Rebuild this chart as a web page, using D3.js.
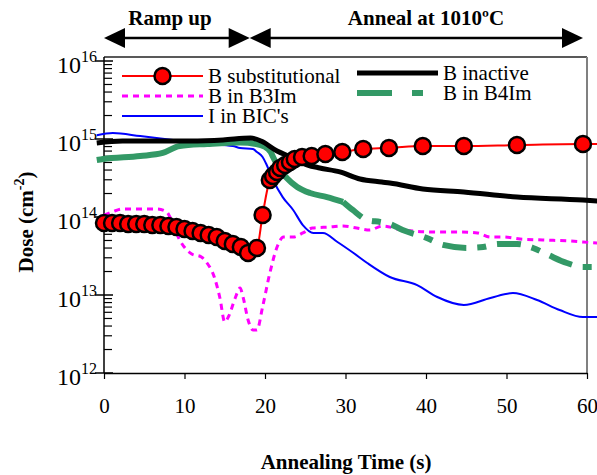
<!DOCTYPE html>
<html><head><meta charset="utf-8">
<script src="https://cdn.jsdelivr.net/npm/d3@7"></script>
<style>body{margin:0;background:#fff}svg{display:block}svg text{font-family:'Liberation Serif','Times New Roman',serif !important}</style>
</head><body><svg id="c" width="597" height="475"></svg>
<script>
// ---- data ----
const subT = [0,1,2,3,4,5,6,7,8,9,10,11,12,13,14,15,16,17,17.9,19.0,19.7,20.6,21.0,21.5,21.9,22.5,23.1,23.7,24.6,25.8,27.5,29.6,32.2,35.4,39.6,44.7,51.3,59.5,61.3];
const subV = [8.38e13,8.38e13,8.38e13,8.13e13,8.13e13,8.13e13,7.89e13,7.89e13,7.67e13,7.45e13,7.02e13,6.62e13,6.24e13,5.88e13,5.54e13,4.92e13,4.51e13,4.12e13,3.45e13,4.01e13,1.06e14,2.98e14,3.36e14,3.78e14,4.25e14,4.64e14,5.07e14,5.54e14,5.88e14,6.05e14,6.42e14,6.81e14,7.45e14,7.67e14,8.13e14,8.13e14,8.38e14,8.63e14,8.63e14];

const inactT = [-0.9,2.3,6.5,10.7,14.8,18.2,19.5,21.5,23.2,25.3,26.8,29.3,31.8,34.5,35.5,39.6,44.7,51.3,59.5,61.3];
const inactV = [8.9e14,9.42e14,9.42e14,9.42e14,9.7e14,1.03e15,9.42e14,7.02e14,5.88e14,4.64e14,4.25e14,3.78e14,3.07e14,2.81e14,2.73e14,2.29e14,2.09e14,1.80e14,1.65e14,1.60e14];

const b3T = [0,1,2.4,4.5,6.6,7.8,8.2,9.4,10.9,12.1,12.8,13.7,14.4,15.0,15.5,16.3,16.9,17.3,17.9,18.5,19.0,19.7,20.6,21.5,22.3,23.5,24.7,25.9,28.1,29.7,31.4,33.0,34.6,37.1,41.4,44.2,46.4,48.0,49.6,51.7,54.5,57.9,59.5,61.3];
const b3V = [1.06e14,1.16e14,1.27e14,1.27e14,1.27e14,1.16e14,1.00e14,5.07e13,3.36e13,3.07e13,2.57e13,1.70e13,9.16e12,4.51e12,5.38e12,9.16e12,1.23e13,9.16e12,4.78e12,3.56e12,3.56e12,7.02e12,1.91e13,4.12e13,5.54e13,5.54e13,6.24e13,7.23e13,7.45e13,7.67e13,7.23e13,6.81e13,7.67e13,6.81e13,6.42e13,6.42e13,6.24e13,5.54e13,5.54e13,5.22e13,5.07e13,4.92e13,4.78e13,4.64e13];

const b4T = [-0.9,-0.1,4.5,7.3,9.4,12.8,16.9,18.9,19.8,20.7,21.0,21.9,22.7,24.0,25.6,27.7,29.7,30.9,32.7,34.3,35.5,37.1,40.1,42.1,45.1,47.1,49.0,51.3,53.3,55.2,57.5,59.5,61.3];
const b4V = [5.38e14,5.54e14,6.05e14,6.62e14,8.13e14,8.63e14,9.02e14,8.63e14,8.13e14,6.81e14,5.88e14,4.01e14,3.16e14,2.43e14,2.03e14,1.80e14,1.56e14,1.23e14,9.16e13,8.63e13,8.13e13,6.81e13,5.38e13,4.38e13,4.01e13,4.12e13,4.51e13,4.51e13,4.01e13,3.26e13,2.57e13,2.29e13,2.29e13];
const b4SolidUntil = 29.7;

const bicT = [-0.9,1.1,4.5,8.6,12.8,16.0,16.9,18.5,19.0,19.7,20.1,21.0,22.2,23.5,24.7,26.0,27.2,29.0,31.0,32.7,35.5,38.9,41.4,44.7,48.0,50.8,53.8,56.6,59.5,61.3];
const bicV = [1.12e15,1.19e15,1.09e15,9.7e14,8.63e14,8.13e14,7.67e14,7.45e14,6.81e14,5.88e14,4.92e14,2.98e14,1.80e14,1.23e14,7.89e13,6.24e13,6.24e13,4.78e13,3.45e13,2.57e13,1.70e13,1.34e13,9.42e12,7.45e12,9.16e12,1.06e13,8.63e12,6.42e12,5.22e12,5.22e12];

const xTicks = [0,10,20,30,40,50,60];
const yMajor = [1e12,1e13,1e14,1e15,1e16];
const phases = [
  {label:"Ramp up", from:0, to:18.1, text:8.2},
  {label:"Anneal at 1010ºC", from:18.1, to:59.5, text:40}
];
const legendItems = [
  {name:"B substitutional", key:"sub", col:0, row:0},
  {name:"B in B3Im", key:"b3", col:0, row:1},
  {name:"I in BIC's", key:"bic", col:0, row:2},
  {name:"B inactive", key:"inact", col:1, row:0},
  {name:"B in B4Im", key:"b4", col:1, row:1}
];

// ---- drawing ----
const FONT = "'Liberation Serif','Times New Roman',serif";
const svg = d3.select("#c").style("font-family", FONT);
const x = d3.scaleLinear().domain([0,60]).range([104,587]);
const y = d3.scaleLog().domain([1e12,1e16]).range([373,61]);
const styles = {
  sub:{stroke:"#ff0000", w:2, dash:null},
  b3:{stroke:"#ff00ff", w:3, dash:"6,5"},
  bic:{stroke:"#0000ff", w:2, dash:null},
  inact:{stroke:"#000000", w:5, dash:null},
  b4:{stroke:"#339966", w:6, dash:null}
};
const zip = (T,V)=>T.map((t,i)=>[t,V[i]]);
const line = d3.line().x(d=>x(d[0])).y(d=>y(d[1])).curve(d3.curveMonotoneX);

// frame
svg.append("line").attr("x1",x(0)).attr("x2",x(60)).attr("y1",57).attr("y2",57).attr("stroke","#222").attr("stroke-width",1.5);
svg.append("line").attr("x1",x(60)).attr("x2",x(60)).attr("y1",57).attr("y2",y(1e12)).attr("stroke","#808080").attr("stroke-width",2);

// x axis
const gx = svg.append("g").attr("transform",`translate(0,${y(1e12)})`)
  .call(d3.axisBottom(x).tickValues(xTicks).tickSize(6).tickSizeOuter(0).tickPadding(19));
gx.attr("font-family",null).attr("font-size",null);
gx.select(".domain").attr("stroke-width",1.5);
gx.selectAll(".tick line").attr("stroke-width",1.2);
gx.selectAll("text").style("font-size","21px").attr("fill","#000");

// y axis
svg.append("line").attr("x1",x(0)).attr("x2",x(0)).attr("y1",57).attr("y2",y(1e12)).attr("stroke","#000").attr("stroke-width",1.5);
const minor = y.ticks().filter(v=>!yMajor.some(m=>Math.abs(m-v)/m<1e-6));
svg.append("g").selectAll("line").data(minor).join("line")
  .attr("x1",x(0)).attr("x2",x(0)+8).attr("y1",d=>y(d)).attr("y2",d=>y(d)).attr("stroke","#000").attr("stroke-width",1.2);
svg.append("g").selectAll("line").data(yMajor).join("line")
  .attr("x1",x(0)-9).attr("x2",x(0)+9).attr("y1",d=>y(d)).attr("y2",d=>y(d)).attr("stroke","#000").attr("stroke-width",1.5);
const yl = svg.append("g").selectAll("text").data(yMajor).join("text")
  .attr("x",97).attr("y",d=>y(d)+12).attr("text-anchor","end").style("font-size","24px");
yl.append("tspan").text("10");
yl.append("tspan").attr("dy",-11).style("font-size","16px").text(d=>Math.round(Math.log10(d)));

// titles
svg.append("text").attr("x",346).attr("y",469).attr("text-anchor","middle").style("font-size","21px").attr("font-weight","bold").text("Annealing Time (s)");
const yt = svg.append("text").attr("transform","translate(33,222) rotate(-90)").attr("text-anchor","middle").style("font-size","21px").attr("font-weight","bold");
yt.append("tspan").text("Dose (cm");
yt.append("tspan").attr("dy",-9).style("font-size","14px").text("-2");
yt.append("tspan").attr("dy",9).text(")");

// phase arrows
const ay = 38, ah = 21, aw = 10;
phases.forEach(p=>{
  const a = x(p.from), b = x(p.to);
  svg.append("line").attr("x1",a+ah-2).attr("x2",b-ah+2).attr("y1",ay).attr("y2",ay).attr("stroke","#000").attr("stroke-width",2.5);
  svg.append("path").attr("d",`M${a},${ay}L${a+ah},${ay-aw}L${a+ah},${ay+aw}Z`).attr("fill","#000");
  svg.append("path").attr("d",`M${b},${ay}L${b-ah},${ay-aw}L${b-ah},${ay+aw}Z`).attr("fill","#000");
  svg.append("text").attr("x",x(p.text)).attr("y",25).attr("text-anchor","middle").style("font-size","21px").attr("font-weight","bold").text(p.label);
});

// series
const series = {
  b3: zip(b3T,b3V),
  bic: zip(bicT,bicV),
  inact: zip(inactT,inactV),
  sub: zip(subT,subV)
};
const b4 = zip(b4T,b4V);
function drawLine(data, st, dash){
  svg.append("path").datum(data).attr("d",line).attr("fill","none")
    .attr("stroke",st.stroke).attr("stroke-width",st.w).attr("stroke-dasharray",dash||null)
    .attr("stroke-linejoin","round");
}
drawLine(series.b3, styles.b3, styles.b3.dash);
drawLine(series.bic, styles.bic);
drawLine(b4.filter(d=>d[0]<=b4SolidUntil), styles.b4);
drawLine(b4.filter(d=>d[0]>=b4SolidUntil), styles.b4, "24,11,9,11");
drawLine(series.inact, styles.inact);
drawLine(series.sub, styles.sub);
svg.append("g").selectAll("circle").data(series.sub.filter(d=>d[0]<=60)).join("circle")
  .attr("cx",d=>x(d[0])).attr("cy",d=>y(d[1])).attr("r",8)
  .attr("fill","#ff0000").attr("stroke","#000").attr("stroke-width",2.5);

// legend
const colX = [122, 357], rowY0 = [76, 73], rowStep = 20, len = 81;
legendItems.forEach(it=>{
  const x0 = colX[it.col], yy = rowY0[it.col] + it.row*rowStep;
  const st = styles[it.key];
  let dash = st.dash;
  if(it.key==="b4") dash = "35,20,11,20";
  svg.append("line").attr("x1",x0).attr("x2",x0+len).attr("y1",yy).attr("y2",yy)
    .attr("stroke",st.stroke).attr("stroke-width",st.w).attr("stroke-dasharray",dash);
  if(it.key==="sub"){
    svg.append("circle").attr("cx",x0+len/2).attr("cy",yy).attr("r",8).attr("fill","#ff0000").attr("stroke","#000").attr("stroke-width",2.5);
  }
  svg.append("text").attr("x",x0+len+5).attr("y",yy+7).style("font-size","21px").text(it.name);
});
</script></body></html>
